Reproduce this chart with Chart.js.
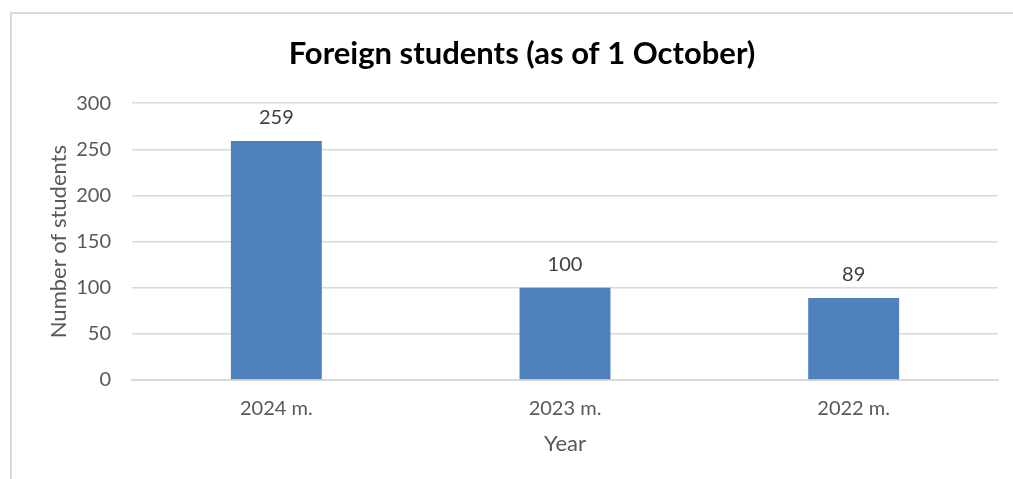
<!DOCTYPE html>
<html>
<head>
<meta charset="utf-8">
<script src="https://cdn.jsdelivr.net/npm/chart.js@4"></script>
<style>
  html, body { margin: 0; padding: 0; background: #fff; overflow: hidden; }
  #wrap { position: relative; width: 1013px; height: 479px; }
  #frame { position: absolute; left: 10px; top: 12px; width: 1100px; height: 600px; border: 2px solid #d9d9d9; box-sizing: border-box; }
  canvas { position: absolute; left: 0; top: 0; }
</style>
</head>
<body>
<div id="wrap">
  <div id="frame"></div>
  <canvas id="chart" width="1013" height="479"></canvas>
</div>
<script>
const years = ["2024 m.", "2023 m.", "2022 m."]
const students = [259, 100, 89]
const yTicks = [0, 50, 100, 150, 200, 250, 300]

const FONT = "Lato, 'Open Sans', sans-serif"

// value labels above each bar
const barLabels = {
  id: "barLabels",
  afterDatasetsDraw(chart) {
    const ctx = chart.ctx
    const meta = chart.getDatasetMeta(0)
    ctx.save()
    ctx.font = "20px " + FONT
    ctx.fillStyle = "#404040"
    ctx.textAlign = "center"
    ctx.textBaseline = "middle"
    meta.data.forEach((bar, i) => {
      ctx.fillText(students[i], bar.x, bar.y - 23)
    })
    ctx.restore()
  }
}

new Chart(document.getElementById("chart"), {
  type: "bar",
  data: {
    labels: years,
    datasets: [{
      label: "Number of students",
      data: students,
      backgroundColor: "#4F81BD",
      borderWidth: 0,
      barPercentage: 0.315,
      categoryPercentage: 1
    }]
  },
  options: {
    responsive: false,
    animation: false,
    layout: { padding: { left: 46, right: 15, top: 0, bottom: 0 } },
    plugins: {
      legend: { display: false },
      tooltip: { enabled: false },
      title: {
        display: true,
        text: "Foreign students (as of 1 October)",
        color: "#000",
        font: { family: FONT, size: 31, weight: "bold" },
        padding: { top: 35, bottom: 31 }
      }
    },
    scales: {
      x: {
        grid: { display: false, drawTicks: false },
        border: { color: "#d9d9d9", width: 2 },
        ticks: { color: "#595959", font: { family: FONT, size: 20 }, padding: 17 },
        title: {
          display: true,
          text: "Year",
          color: "#595959",
          font: { family: FONT, size: 22 },
          padding: { top: 0, bottom: 22 }
        },
        afterFit(scale) { scale.height = 99 }
      },
      y: {
        min: 0,
        max: 300,
        afterBuildTicks(scale) { scale.ticks = yTicks.map(v => ({ value: v })) },
        grid: { color: "#d9d9d9", lineWidth: 1.5, drawTicks: false },
        border: { display: false },
        ticks: { color: "#595959", font: { family: FONT, size: 20 }, padding: 21 },
        title: {
          display: true,
          text: "Number of students",
          color: "#595959",
          font: { family: FONT, size: 22 },
          padding: { top: 0, bottom: 0 }
        },
        afterFit(scale) { scale.width = 86 }
      }
    }
  },
  plugins: [barLabels]
})
</script>
</body>
</html>
